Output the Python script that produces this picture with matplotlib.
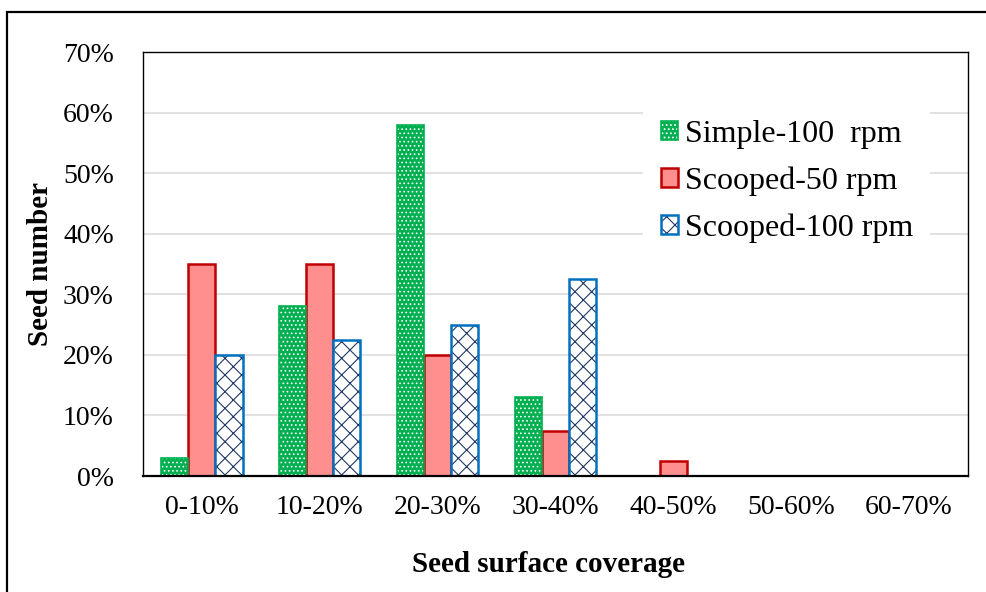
import numpy as np
import matplotlib
matplotlib.use("Agg")
import matplotlib.pyplot as plt
from matplotlib.patches import Patch, Rectangle
from matplotlib.legend_handler import HandlerTuple

plt.rcParams["font.family"] = ["Liberation Serif", "DejaVu Serif"]
plt.rcParams["hatch.linewidth"] = 0.8

categories = ["0-10%", "10-20%", "20-30%", "30-40%", "40-50%", "50-60%", "60-70%"]
simple_100 = [3, 28, 58, 13, 0, 0, 0]
scooped_50 = [35, 35, 20, 7.5, 2.5, 0, 0]
scooped_100 = [20, 22.5, 25, 32.5, 0, 0, 0]
series_names = ["Simple-100  rpm", "Scooped-50 rpm", "Scooped-100 rpm"]
y_ticks = [0, 10, 20, 30, 40, 50, 60, 70]

GREEN = "#00B050"
RED_FACE = "#FF8E8E"
RED_EDGE = "#C00000"
BLUE_EDGE = "#0070C0"
NAVY = "#1F3864"

W, H = 986, 592
fig = plt.figure(figsize=(W / 100, H / 100), dpi=100)
ax = fig.add_axes([143 / W, 1 - 476 / H, (968 - 143) / W, (476 - 52) / H])

x = np.arange(len(categories))
bw = 0.23


def dotted(p):
    # smaller white dots for the green series, if this matplotlib allows it
    if hasattr(p, "set_hatch_linewidth"):
        p.set_hatch_linewidth(0.7)
    return p


# green: white dots on green, then green outline
gbars = ax.bar(x - bw, simple_100, bw, color=GREEN, edgecolor="white", hatch="....", linewidth=0, zorder=3)
for p in gbars:
    dotted(p)
ax.bar(x - bw, simple_100, bw, fill=False, edgecolor=GREEN, linewidth=1.2, zorder=4)

ax.bar(x, scooped_50, bw, color=RED_FACE, edgecolor=RED_EDGE, linewidth=1.8, zorder=3)

# blue: navy crosshatch on white, blue outline
ax.bar(x + bw, scooped_100, bw, color="white", edgecolor=NAVY, hatch="xx", linewidth=0, zorder=3)
ax.bar(x + bw, scooped_100, bw, fill=False, edgecolor=BLUE_EDGE, linewidth=1.8, zorder=4)

ax.set_xlim(-0.5, len(categories) - 0.5)
ax.set_ylim(0, 70)
ax.set_yticks(y_ticks)
ax.set_yticklabels([f"{t}%" for t in y_ticks])
ax.set_xticks(x)
ax.set_xticklabels(categories)
ax.tick_params(axis="y", length=0, pad=21, labelsize=20)
ax.tick_params(axis="x", length=0, pad=14, labelsize=20)
ax.yaxis.grid(True, color="#d9d9d9", linewidth=1.1, zorder=0)
ax.set_axisbelow(True)
for s in ax.spines.values():
    s.set_linewidth(1.0)
    s.set_color("black")
ax.spines["bottom"].set_linewidth(1.6)
ax.spines["bottom"].set_zorder(5)

fig.text(548 / W, 1 - 564 / H, "Seed surface coverage", ha="center", va="center",
         fontsize=21, fontweight="bold")
fig.text(41 / W, 1 - 264 / H, "Seed number", ha="center", va="center",
         rotation=90, fontsize=21, fontweight="bold")

handles = [
    (dotted(Patch(facecolor=GREEN, edgecolor="white", hatch="....", linewidth=0)),
     Patch(fill=False, edgecolor=GREEN, linewidth=1.2)),
    Patch(facecolor=RED_FACE, edgecolor=RED_EDGE, linewidth=1.8),
    (Patch(facecolor="white", edgecolor=NAVY, hatch="xx", linewidth=0),
     Patch(fill=False, edgecolor=BLUE_EDGE, linewidth=1.8)),
]
leg = ax.legend(handles, series_names, handler_map={tuple: HandlerTuple(ndivide=1)},
                loc="upper left", bbox_to_anchor=(643 / W, 1 - 102 / H),
                bbox_transform=fig.transFigure, fontsize=23,
                handlelength=0.53, handleheight=0.53, handletextpad=0.22,
                labelspacing=0.55, borderpad=0.55, borderaxespad=0,
                frameon=True, fancybox=False, framealpha=1)
leg.get_frame().set_edgecolor("none")
leg.get_frame().set_facecolor("white")
leg.set_zorder(6)

# outer chart border (only left and top edges are inside the image)
fig.patches.append(Rectangle((7 / W, -0.1), 1.2, 1.1 - 12 / H, transform=fig.transFigure,
                             fill=False, edgecolor="black", linewidth=1.6))

fig.savefig("out.png", dpi=100)
